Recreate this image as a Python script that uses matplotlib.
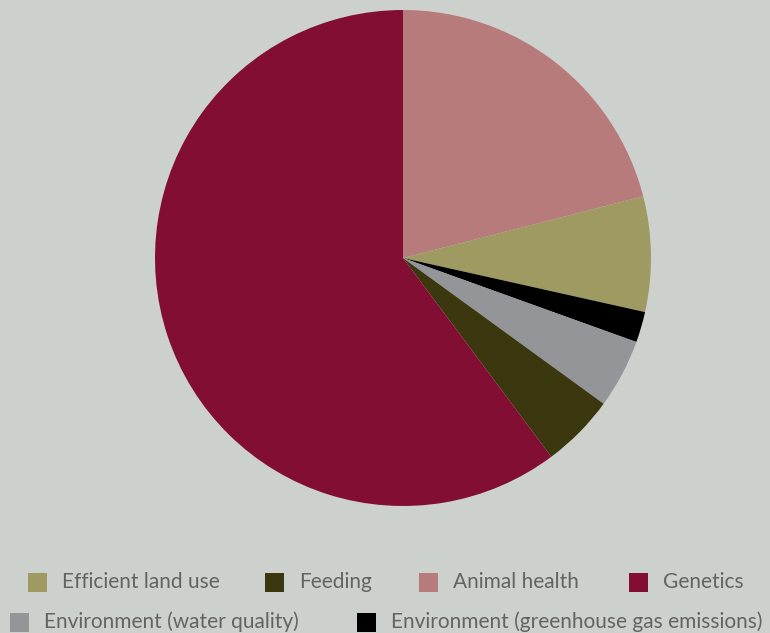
import matplotlib
matplotlib.use('Agg')
import matplotlib.pyplot as plt
from matplotlib.patches import Rectangle

# Slice values (percent), in drawing order, clockwise from 12 o'clock
slice_labels = ['Animal health', 'Efficient land use', 'Environment (greenhouse gas emissions)',
                'Environment (water quality)', 'Feeding', 'Genetics']
slice_values = [21.0, 7.5, 2.0, 4.5, 4.8, 60.2]
slice_colors = ['#B87B7C', '#9E9A62', '#000000', '#939598', '#3B3810', '#820F33']

# Legend order as shown under the chart
legend_rows = [
    ['Efficient land use', 'Feeding', 'Animal health', 'Genetics'],
    ['Environment (water quality)', 'Environment (greenhouse gas emissions)'],
]

W, H = 770, 633
bg = '#CDD1CE'

fig = plt.figure(figsize=(W / 100, H / 100), dpi=100, facecolor=bg)

# Pie centre and radius in pixels
cx, cy, r = 403, 258, 248
ax = fig.add_axes([(cx - r) / W, (H - cy - r) / H, 2 * r / W, 2 * r / H])
ax.set_facecolor(bg)
ax.pie(slice_values, colors=slice_colors, startangle=90, counterclock=False,
       radius=1.0, wedgeprops=dict(linewidth=0))
ax.set_xlim(-1, 1)
ax.set_ylim(-1, 1)
ax.set_aspect('equal')
ax.axis('off')

# Legend, drawn by hand to match the layout
color_of = dict(zip(slice_labels, slice_colors))
row_y = [582, 622]
square_x = [[28, 265, 419, 629], [10, 357]]
sq = 19
for labels, y, xs in zip(legend_rows, row_y, square_x):
    for lab, x in zip(labels, xs):
        fig.add_artist(Rectangle((x / W, (H - y - sq / 2) / H), sq / W, sq / H,
                                 transform=fig.transFigure, color=color_of[lab], lw=0))
        fig.text((x + sq + 15) / W, (H - y) / H, lab, fontsize=15, family='Lato',
                 color='#636363', va='center', ha='left')

fig.savefig('out.png', dpi=100, facecolor=bg)
